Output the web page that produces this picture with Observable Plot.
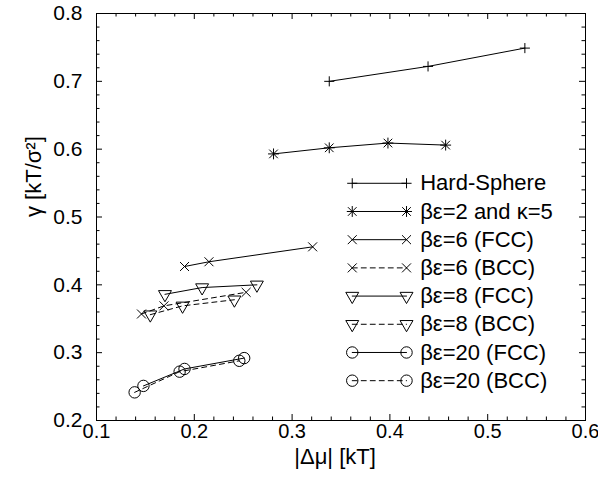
<!DOCTYPE html>
<html><head><meta charset="utf-8">
<script src="https://cdn.jsdelivr.net/npm/d3@7"></script>
<script src="https://cdn.jsdelivr.net/npm/@observablehq/plot@0.6"></script>
<style>body{margin:0;background:#fff}</style>
</head><body><div id="chart"></div>
<script>
// ---- data ----
const seriesNames = ["Hard-Sphere", "βε=2 and κ=5", "βε=6 (FCC)", "βε=6 (BCC)", "βε=8 (FCC)", "βε=8 (BCC)", "βε=20 (FCC)", "βε=20 (BCC)"];
const seriesMarker = ["plus", "star", "times", "times", "tri", "tri", "circle", "circle"];
const seriesDashed = [false, false, false, true, false, true, false, true];

const hsX = [0.338, 0.439, 0.538];           const hsY = [0.700, 0.722, 0.749];
const b2X = [0.281, 0.338, 0.398, 0.457];    const b2Y = [0.593, 0.602, 0.609, 0.606];
const b6fX = [0.190, 0.215, 0.321];          const b6fY = [0.427, 0.434, 0.456];
const b6bX = [0.146, 0.169, 0.253];          const b6bY = [0.357, 0.369, 0.389];
const b8fX = [0.170, 0.208, 0.264];          const b8fY = [0.386, 0.396, 0.400];
const b8bX = [0.155, 0.188, 0.241];          const b8bY = [0.356, 0.369, 0.378];
const b20fX = [0.148, 0.190, 0.251];         const b20fY = [0.251, 0.276, 0.292];
const b20bX = [0.139, 0.185, 0.246];         const b20bY = [0.2415, 0.272, 0.288];

const xTickLabels = [0.1, 0.2, 0.3, 0.4, 0.5, 0.6];
const yTickLabels = [0.2, 0.3, 0.4, 0.5, 0.6, 0.7, 0.8];
const xLabel = "|Δμ| [kT]";
const yLabel = "γ [kT/σ²]";

// ---- build table ----
const seriesX = [hsX, b2X, b6fX, b6bX, b8fX, b8bX, b20fX, b20bX];
const seriesY = [hsY, b2Y, b6fY, b6bY, b8fY, b8bY, b20fY, b20bY];
const rows = seriesNames.flatMap((s, i) => seriesX[i].map((x, j) => ({s, x, y: seriesY[i][j], m: seriesMarker[i], dashed: seriesDashed[i]})));

// legend (layout in data space)
const legX1 = 0.3615, legX2 = 0.417, legTextX = 0.431, legY0 = 0.5497, legStep = 0.04157;
const legRows = seriesNames.flatMap((s, i) => [legX1, legX2].map(x => ({s: "L" + s, x, y: legY0 - i * legStep, m: seriesMarker[i], dashed: seriesDashed[i]})));
const legText = seriesNames.map((s, i) => ({s, x: legTextX, y: legY0 - i * legStep}));

const all = rows.concat(legRows);

const W = 598, H = 484, mT = 13, mR = 13, mB = 64, mL = 96;
const FW = W - mL - mR, FH = H - mT - mB;
const xMinor = d3.range(0.12, 0.6, 0.02).map(v => +v.toFixed(2)).filter(v => Math.abs(v * 10 - Math.round(v * 10)) > 1e-6);
const yMinor = d3.range(0.22, 0.8, 0.02).map(v => +v.toFixed(2)).filter(v => Math.abs(v * 10 - Math.round(v * 10)) > 1e-6);

const dotOpts = {x: "x", y: "y", fill: "none", stroke: "black", strokeWidth: 1};
const byM = m => all.filter(d => d.m === m);

const plot = Plot.plot({
  width: W, height: H,
  marginTop: mT, marginRight: mR, marginBottom: mB, marginLeft: mL,
  style: {fontFamily: "'Liberation Sans', Arial, sans-serif", background: "white", color: "black"},
  x: {domain: [0.1, 0.6], axis: null},
  y: {domain: [0.2, 0.8], axis: null},
  marks: [
    // lines
    Plot.line(all.filter(d => !d.dashed), {x: "x", y: "y", z: "s", stroke: "black", strokeWidth: 1}),
    Plot.line(all.filter(d => d.dashed), {x: "x", y: "y", z: "s", stroke: "black", strokeWidth: 1, strokeDasharray: "5,4"}),
    // markers
    Plot.dot(byM("plus"), {...dotOpts, symbol: "plus", r: 3.35}),
    Plot.dot(byM("star"), {...dotOpts, symbol: "plus", r: 3.6}),
    Plot.dot(byM("star"), {...dotOpts, symbol: "times", r: 4.0}),
    Plot.dot(byM("times"), {...dotOpts, symbol: "times", r: 4.15}),
    Plot.dot(byM("tri"), {...dotOpts, symbol: "triangle", r: 4.8, rotate: 180}),
    Plot.dot(byM("circle"), {...dotOpts, symbol: "circle", r: 5.7}),
    // legend text
    Plot.text(legText, {x: "x", y: "y", text: "s", textAnchor: "start", fontSize: 22, fill: "black"}),
    // frame
    Plot.frame({stroke: "black", strokeWidth: 1}),
    // major ticks (inward, all four sides)
    Plot.tickX(xTickLabels, {x: d => d, insetTop: FH - 6, stroke: "black"}),
    Plot.tickX(xTickLabels, {x: d => d, insetBottom: FH - 6, stroke: "black"}),
    Plot.tickY(yTickLabels, {y: d => d, insetRight: FW - 6, stroke: "black"}),
    Plot.tickY(yTickLabels, {y: d => d, insetLeft: FW - 6, stroke: "black"}),
    // minor ticks
    Plot.tickX(xMinor, {x: d => d, insetTop: FH - 3.5, stroke: "black"}),
    Plot.tickX(xMinor, {x: d => d, insetBottom: FH - 3.5, stroke: "black"}),
    Plot.tickY(yMinor, {y: d => d, insetRight: FW - 3.5, stroke: "black"}),
    Plot.tickY(yMinor, {y: d => d, insetLeft: FW - 3.5, stroke: "black"}),
    // tick labels
    Plot.axisX(xTickLabels, {tickSize: 0, tickPadding: 3, fontSize: 20, label: null, tickFormat: d => d.toFixed(1)}),
    Plot.axisY(yTickLabels, {tickSize: 0, tickPadding: 14, fontSize: 21, label: null, tickFormat: d => d.toFixed(1)}),
    // axis titles
    Plot.text([xLabel], {frameAnchor: "bottom", dy: 43, dx: -6, text: d => d, fontSize: 22, fill: "black"}),
    Plot.text([yLabel], {frameAnchor: "left", dx: -63, rotate: -90, text: d => d, fontSize: 22, fill: "black"})
  ]
});
document.getElementById("chart").appendChild(plot);
</script>
</body></html>
